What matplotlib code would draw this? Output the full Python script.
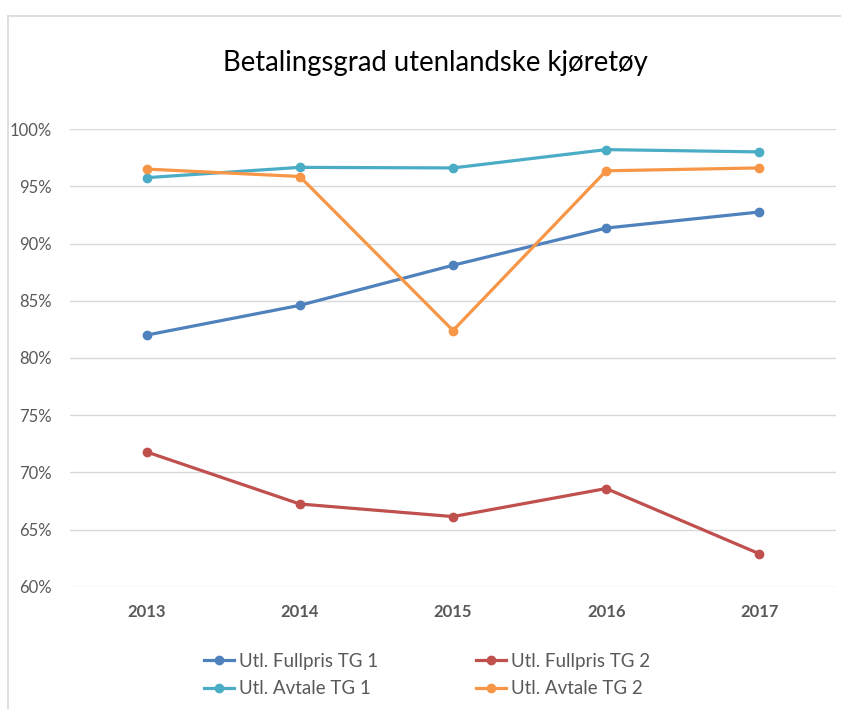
import matplotlib.pyplot as plt
from matplotlib.lines import Line2D
from matplotlib.ticker import PercentFormatter

years = ["2013", "2014", "2015", "2016", "2017"]
fullpris_tg1 = [82.0, 84.6, 88.1, 91.35, 92.75]
fullpris_tg2 = [71.8, 67.25, 66.15, 68.6, 62.9]
avtale_tg1 = [95.75, 96.65, 96.6, 98.2, 98.0]
avtale_tg2 = [96.5, 95.85, 82.4, 96.35, 96.6]

plt.rcParams['font.family'] = ['Lato', 'DejaVu Sans']

fig = plt.figure(figsize=(8.41, 7.09), dpi=100)
W, H = 841, 709
ax = fig.add_axes([70 / W, 1 - 587 / H, (836 - 70) / W, (587 - 129) / H])

x = list(range(len(years)))
series = [
    ("Utl. Fullpris TG 1", fullpris_tg1, "#4F81BD"),
    ("Utl. Fullpris TG 2", fullpris_tg2, "#C0504D"),
    ("Utl. Avtale TG 1", avtale_tg1, "#4BACC6"),
    ("Utl. Avtale TG 2", avtale_tg2, "#F79646"),
]
handles = {}
for name, vals, col in series:
    h, = ax.plot(x, vals, color=col, lw=2.3, marker="o", ms=6, label=name)
    handles[name] = h

ax.set_xlim(-0.5, 4.5)
ax.set_ylim(60, 100)
ax.set_yticks(range(60, 101, 5))
ax.yaxis.set_major_formatter(PercentFormatter(decimals=0))
ax.set_xticks(x)
ax.set_xticklabels(years, fontweight="bold")
ax.grid(axis="y", color="#D9D9D9", lw=1)
ax.set_axisbelow(True)
for s in ax.spines.values():
    s.set_visible(False)
ax.tick_params(length=0, labelsize=12, labelcolor="#595959")
ax.tick_params(axis="y", pad=13)
ax.tick_params(axis="x", pad=12)

fig.text(435 / W, 1 - 63 / H, "Betalingsgrad utenlandske kjøretøy",
         ha="center", va="center", fontsize=19.8, color="black")

order = ["Utl. Fullpris TG 1", "Utl. Avtale TG 1", "Utl. Fullpris TG 2", "Utl. Avtale TG 2"]
leg = fig.legend([handles[n] for n in order], order, ncol=2,
                 loc="center", bbox_to_anchor=(427 / W, 1 - 675 / H),
                 frameon=False, fontsize=13.5, handlelength=1.6, handletextpad=0.28,
                 columnspacing=5.2, labelspacing=0.55)
for t in leg.get_texts():
    t.set_color("#595959")

# chart frame
fig.add_artist(Line2D([8 / W, 8 / W], [0, 1 - 15.5 / H], color="#D9D9D9", lw=1.2))
fig.add_artist(Line2D([8 / W, 1], [1 - 15.5 / H, 1 - 15.5 / H], color="#D9D9D9", lw=1.2))

fig.savefig("out.png", dpi=100)
